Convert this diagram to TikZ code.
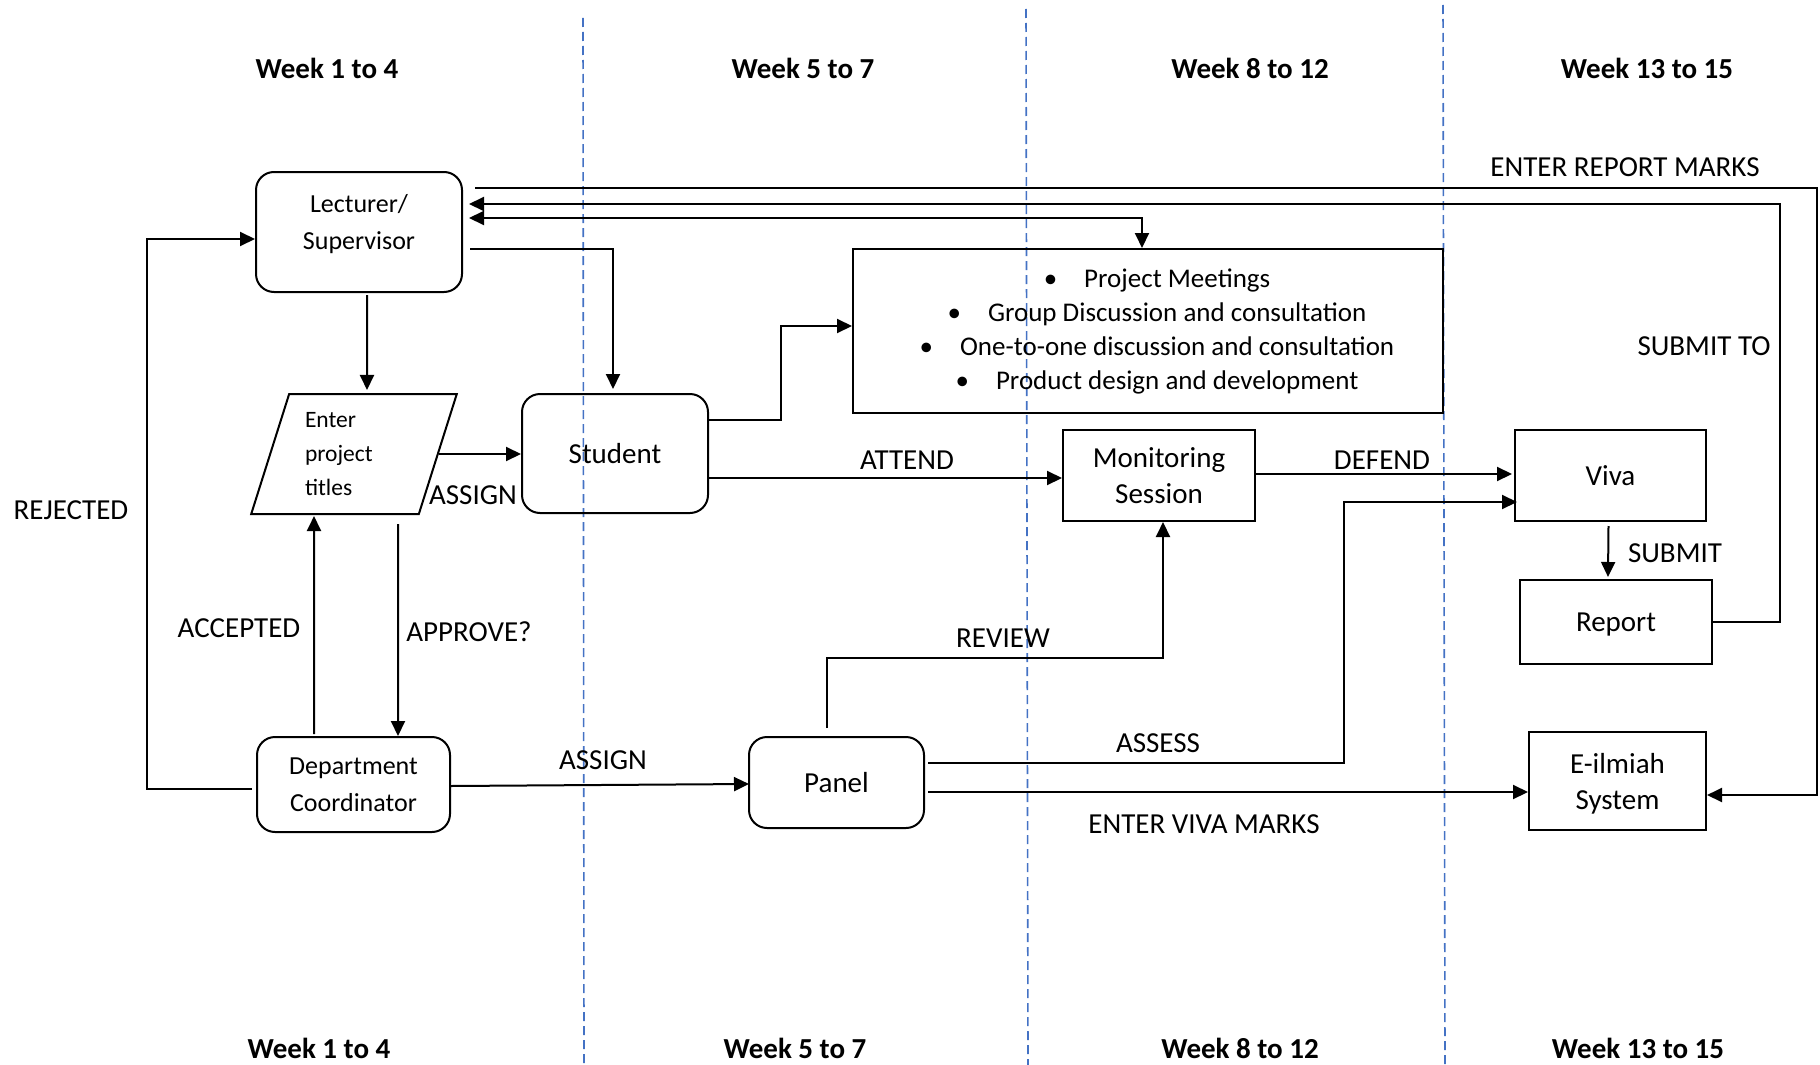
\documentclass[tikz,border=0pt]{standalone}
\usepackage{fontspec}
\setmainfont{Carlito}
\usetikzlibrary{arrows.meta,shapes.geometric,calc}
\definecolor{laneblue}{RGB}{68,114,196}
\newcommand\bigtxt{\fontsize{29}{36}\selectfont}
\newcommand\midtxt{\fontsize{26}{37}\selectfont}

\begin{document}
\begin{tikzpicture}[x=1pt,y=-1pt,
	rbox/.style={draw,line width=2pt,rounded corners=18pt,align=center,inner sep=0pt},
	sbox/.style={draw,line width=2pt,align=center,inner sep=0pt},
	arr/.style={line width=2pt,-{Triangle[length=15pt,width=14pt]}},
	dbl/.style={line width=2pt,{Triangle[length=15pt,width=14pt]}-{Triangle[length=15pt,width=14pt]}},
	lbl/.style={font=\fontsize{29}{35}\selectfont},
	week/.style={font=\fontsize{29}{35}\selectfont\bfseries},
	lane/.style={draw=laneblue,line width=1.6pt,dash pattern=on 9pt off 5pt}]
	\useasboundingbox (0,0) rectangle (1820,1065);

	% week lanes
	\draw[lane] (583,18 ) -- (584,1065);
	\draw[lane] (1026,9 ) -- (1028,1065);
	\draw[lane] (1443,5 ) -- (1445,1065);

	\node[week] (w1t) at (327,68  ) {Week 1 to 4};
	\node[week] (w2t) at (803,68  ) {Week 5 to 7};
	\node[week] (w3t) at (1250,68 ) {Week 8 to 12};
	\node[week] (w4t) at (1647,68 ) {Week 13 to 15};
	\node[week] (w1b) at (319,1048) {Week 1 to 4};
	\node[week] (w2b) at (795,1048) {Week 5 to 7};
	\node[week] (w3b) at (1240,1048) {Week 8 to 12};
	\node[week] (w4b) at (1638,1048) {Week 13 to 15};

	% boxes
	\node[rbox,minimum width=206,minimum height=120,font=\midtxt,text depth=21pt] (lect) at (359,232) {Lecturer/\\Supervisor};
	\node[draw,line width=2pt,trapezium,trapezium left angle=71,trapezium right angle=109,
	      trapezium stretches=true,minimum width=206,minimum height=120,inner sep=0pt,
	      text width=98pt,align=left,font=\fontsize{23.5}{34}\selectfont] (titles) at (354,454) {Enter\\project\\titles};
	\node[rbox,minimum width=186,minimum height=119,font=\bigtxt] (stud) at (615,453.5) {Student};
	\node[sbox,minimum width=590,minimum height=164,font=\fontsize{27}{34}\selectfont] (meet) at (1148,331) {%
		\hspace*{18pt}\textbullet\quad Project Meetings\\
		\hspace*{18pt}\textbullet\quad Group Discussion and consultation\\
		\hspace*{18pt}\textbullet\quad One-to-one discussion and consultation\\
		\hspace*{18pt}\textbullet\quad Product design and development};
	\node[sbox,minimum width=192,minimum height=91,font=\bigtxt] (mon)    at (1159,475.5)   {Monitoring\\Session};
	\node[sbox,minimum width=191,minimum height=91,font=\bigtxt] (viva)   at (1610.5,475.5) {Viva};
	\node[sbox,minimum width=192,minimum height=84,font=\bigtxt,text depth=0pt] (report) at (1616,622) {Report};
	\node[sbox,minimum width=177,minimum height=98,font=\bigtxt,text depth=0pt] (eil)    at (1617.5,781) {E-ilmiah\\System};
	\node[rbox,minimum width=193,minimum height=95,font=\midtxt] (dept)   at (353.5,784.5)  {Department\\Coordinator};
	\node[rbox,minimum width=175,minimum height=91,font=\bigtxt] (panel)  at (836.5,782.5)  {Panel};

	% labels
	\node[lbl] (lReport)   at (1625,167) {ENTER REPORT MARKS};
	\node[lbl] (lSubmitTo) at (1704,346) {SUBMIT TO};
	\node[lbl] (lAssignA)  at (473,495)  {ASSIGN};
	\node[lbl] (lAttend)   at (907,460)  {ATTEND};
	\node[lbl] (lDefend)   at (1382,460) {DEFEND};
	\node[lbl] (lSubmit)   at (1675,553) {SUBMIT};
	\node[lbl] (lReject)   at (71,510)   {REJECTED};
	\node[lbl] (lAccept)   at (239,628)  {ACCEPTED};
	\node[lbl] (lApprove)  at (469,632)  {APPROVE?};
	\node[lbl] (lAssignB)  at (603,760)  {ASSIGN};
	\node[lbl] (lReview)   at (1003,638) {REVIEW};
	\node[lbl] (lAssess)   at (1158,743) {ASSESS};
	\node[lbl] (lVivaMk)   at (1204,824) {ENTER VIVA MARKS};

	\coordinate (railR) at (1817,188);
	\coordinate (railS) at (1780,204);

	% connectors
	\draw[arr] ($(lect.east |- railR)+(12,0)$) -- (railR) |- ($(eil.east)+(0,14)$);
	\draw[arr] (report.east) -| (railS) |- ($(lect.east |- railS)+(6,0)$);
	\draw[dbl] ($(lect.east)+(6,-14)$) -| ($(meet.north)+(-6,0)$);
	\draw[arr] ($(lect.east)+(7,17)$) -| ($(stud.north)+(-2,-4)$);
	\draw[arr] ($(lect.south)+(8,2)$) -- ($(titles.north)+(13,-3)$);
	\draw[arr] (titles.east) -- (titles.east -| stud.west);
	\draw[arr] ($(stud.east)+(0,-34)$) -- ++(72,0) |- ($(meet.west)+(0,-5)$);
	\draw[arr] ($(stud.east)+(0,24.5)$) -- ($(mon.west)+(0,2.5)$);
	\draw[arr] ($(mon.east)+(0,-1.5)$) -- ($(viva.west)+(-2,-1.5)$);
	\draw[arr] ($(viva.south)+(-2,4)$) -- ($(report.north)+(-8,-2)$);
	\draw[arr] ($(titles.south)+(44,9)$) -- ($(dept.north)+(44.5,0)$);
	\draw[arr] ($(dept.north)+(-39.5,-2)$) -- ($(titles.south)+(-40,1)$);
	\draw[arr] ($(dept.west)+(-4,4.5)$) -- ++(-105,0) |- ($(lect.west)+(0,7)$);
	\draw[arr] ($(dept.east)+(0,1.5)$) -- ($(panel.west)+(1,1.5)$);
	\draw[arr] ($(panel.north)+(-9.5,-8)$) -- ++(0,-70) -| ($(mon.south)+(4,0)$);
	\draw[arr] ($(panel.east)+(3,-19.5)$) -- ++(416,0) |- ($(viva.west)+(3,26.5)$);
	\draw[arr] ($(panel.east)+(3,9.5)$) -- ($(eil.west)+(0,11)$);
\end{tikzpicture}
\end{document}
